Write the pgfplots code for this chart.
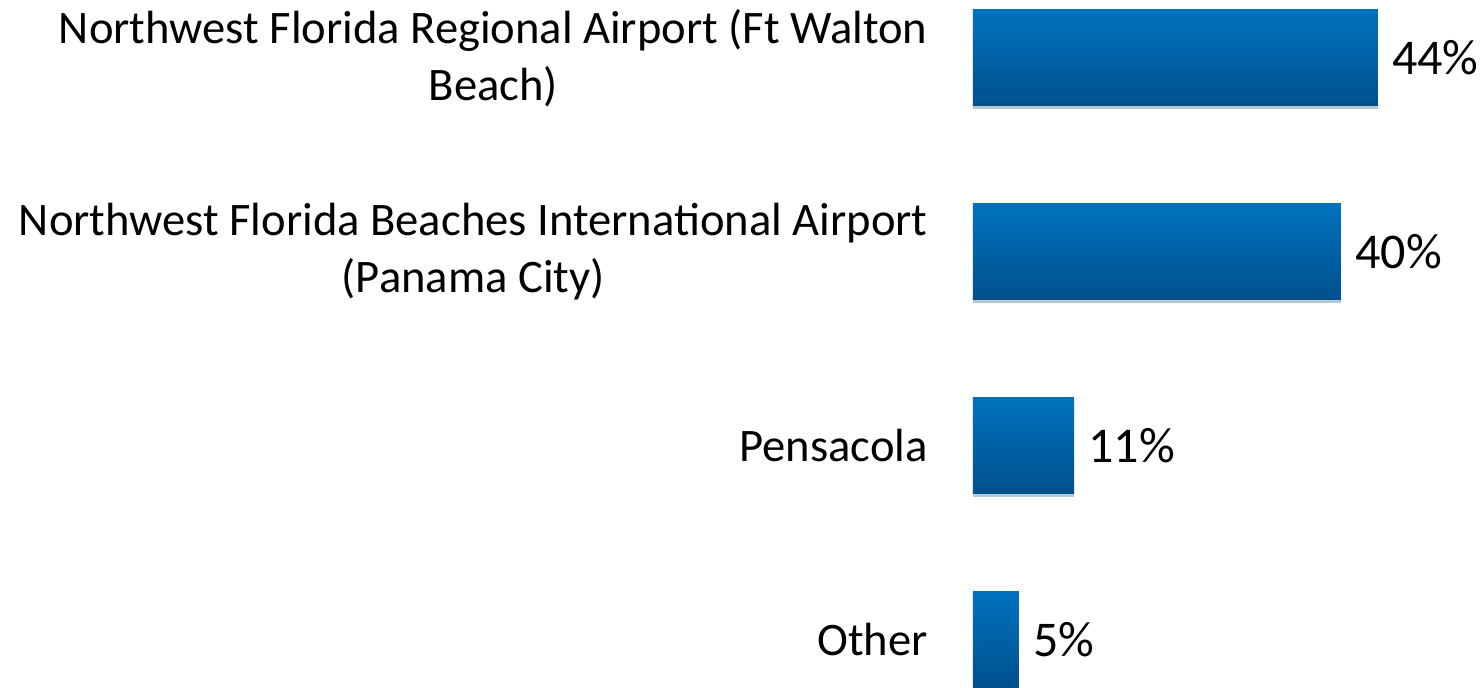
\documentclass[border=0pt]{standalone}
\usepackage{fontspec}
\setmainfont{Carlito}
\usepackage{pgfplots}
\pgfplotsset{compat=1.18}
\usetikzlibrary{shadows}
\definecolor{barTop}{RGB}{0,114,190}
\definecolor{barBot}{RGB}{0,80,140}
\begin{document}
\begin{tikzpicture}
\path[use as bounding box] (-486.5pt,0pt) rectangle (254pt,344pt);
\begin{axis}[
  at={(0pt,0pt)}, anchor=south west,
  scale only axis,
  width=253pt, height=344pt,
  xmin=0, xmax=55,
  ymin=-0.24742, ymax=3.29897,
  xbar, bar width=48pt, bar shift=0pt,
  axis line style={draw=none},
  tick style={draw=none},
  major tick length=0pt,
  xtick=\empty,
  ytick={0,1,2,3},
  yticklabels={Other,Pensacola,{Northwest Florida Beaches International Airport\\(Panama City)},{Northwest Florida Regional Airport (Ft Walton\\Beach)}},
  yticklabel style={font=\fontsize{23.3}{28.5}\selectfont, align=center, inner sep=0pt, xshift=-22.5pt},
  nodes near coords={\pgfmathprintnumber[assume math mode=true]{\pgfplotspointmeta}\%},
  nodes near coords align={horizontal},
  every node near coord/.append style={font=\fontsize{25}{30}\selectfont, inner sep=0pt, xshift=7pt, anchor=west},
  clip=false,
  barstyle/.style={draw=none, top color=barTop, bottom color=barBot,
    drop shadow={shadow xshift=0pt, shadow yshift=-1.5pt, opacity=0.2}},
]
\addplot[barstyle] coordinates {(5,0)};
\addplot[barstyle] coordinates {(11,1)};
\addplot[barstyle] coordinates {(40,2)};
\addplot[barstyle] coordinates {(44,3)};
\end{axis}
\end{tikzpicture}
\end{document}
